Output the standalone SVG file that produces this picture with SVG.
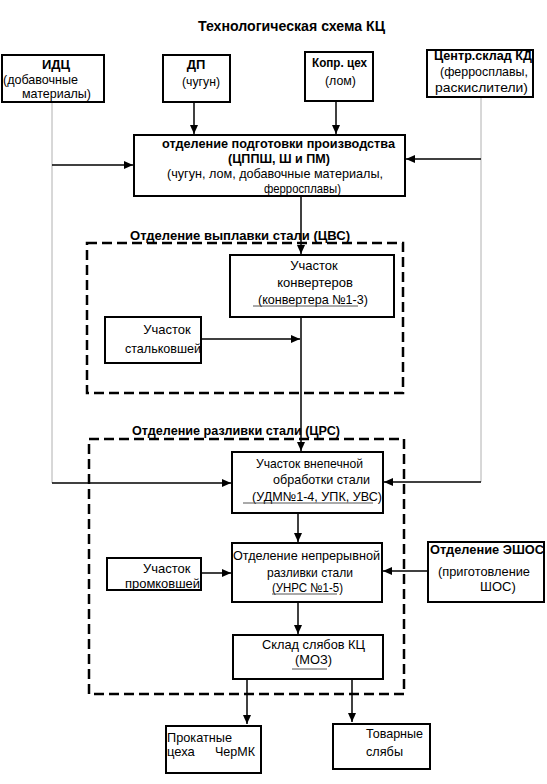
<svg xmlns="http://www.w3.org/2000/svg" width="547" height="784" viewBox="0 0 547 784">
<style>
text{font-family:"Liberation Sans",Arial,sans-serif;font-size:13px;fill:#000}
.b{font-weight:bold}
.t{font-size:14px;font-weight:bold}
.box{fill:#fff;stroke:#000;stroke-width:2}
.dash{fill:none;stroke:#000;stroke-width:2.5;stroke-dasharray:10 5}
.ln{fill:none;stroke:#000;stroke-width:1.5}
.gr{fill:none;stroke:#b0b0b0;stroke-width:1}
.ul{stroke:#555;stroke-width:1}
</style>
<defs>
<marker id="ah" markerUnits="userSpaceOnUse" markerWidth="10" markerHeight="8" refX="9" refY="4" orient="auto">
<path d="M0,0 L9,4 L0,8 z" fill="#000"/>
</marker>
</defs>
<rect width="547" height="784" fill="#fff"/>
<text class="t" x="198" y="31" textLength="187" lengthAdjust="spacingAndGlyphs">Технологическая схема КЦ</text>

<g id="zones">
<rect class="dash" x="87" y="243" width="316" height="150"/>
<text class="b" x="130" y="240" textLength="220" lengthAdjust="spacingAndGlyphs">Отделение  выплавки стали (ЦВС)</text>
<rect class="dash" x="89" y="439" width="315" height="255"/>
<text class="b" x="132" y="435" textLength="208" lengthAdjust="spacingAndGlyphs">Отделение разливки стали (ЦРС)</text>
</g>

<g id="connectors">
<path class="gr" d="M52,102 V483"/>
<path class="gr" d="M481,97 V482"/>
<path class="ln" d="M52,165 H133" marker-end="url(#ah)"/>
<path class="ln" d="M481,159 H406" marker-end="url(#ah)"/>
<path class="ln" d="M194,102 V134" marker-end="url(#ah)"/>
<path class="ln" d="M336,101 V134" marker-end="url(#ah)"/>
<path class="ln" d="M301,196 V254" marker-end="url(#ah)"/>
<path class="ln" d="M301,317 V451" marker-end="url(#ah)"/>
<path class="ln" d="M201,339 H300" marker-end="url(#ah)"/>
<path class="ln" d="M52,483 H231" marker-end="url(#ah)"/>
<path class="ln" d="M481,482 H384" marker-end="url(#ah)"/>
<path class="ln" d="M298,513 V542" marker-end="url(#ah)"/>
<path class="ln" d="M201,573 H231" marker-end="url(#ah)"/>
<path class="ln" d="M428,571 H383" marker-end="url(#ah)"/>
<path class="ln" d="M298,602 V634" marker-end="url(#ah)"/>
<path class="ln" d="M247,679 V724" marker-end="url(#ah)"/>
<path class="ln" d="M352,679 V722" marker-end="url(#ah)"/>
</g>

<g id="idc">
<rect class="box" x="2" y="55" width="102" height="47"/>
<text class="b" x="56" y="69" text-anchor="middle">ИДЦ</text>
<text x="3" y="84" textLength="75" lengthAdjust="spacingAndGlyphs">(добавочные</text>
<text x="22" y="98" textLength="69" lengthAdjust="spacingAndGlyphs">материалы)</text>
</g>

<g id="dp">
<rect class="box" x="163" y="55" width="67" height="47"/>
<text class="b" x="196" y="69" text-anchor="middle">ДП</text>
<text x="182" y="86" textLength="38" lengthAdjust="spacingAndGlyphs">(чугун)</text>
</g>

<g id="kopr">
<rect class="box" x="305" y="52" width="68" height="49"/>
<text class="b" x="312" y="67" textLength="55" lengthAdjust="spacingAndGlyphs">Копр. цех</text>
<text x="325" y="85" textLength="31" lengthAdjust="spacingAndGlyphs">(лом)</text>
</g>

<g id="centr">
<rect class="box" x="427" y="50" width="106" height="47"/>
<text class="b" x="434" y="60" textLength="98" lengthAdjust="spacingAndGlyphs">Центр.склад КД</text>
<text x="440" y="76" textLength="88" lengthAdjust="spacingAndGlyphs">(ферросплавы,</text>
<text x="435" y="92" textLength="93" lengthAdjust="spacingAndGlyphs">раскислители)</text>
</g>

<g id="podg">
<rect class="box" x="134" y="135" width="271" height="61"/>
<text class="b" x="162" y="148" textLength="233" lengthAdjust="spacingAndGlyphs">отделение подготовки производства</text>
<text class="b" x="228" y="163" textLength="102" lengthAdjust="spacingAndGlyphs">(ЦППШ, Ш и ПМ)</text>
<text x="167" y="178" textLength="216" lengthAdjust="spacingAndGlyphs">(чугун, лом, добавочные материалы,</text>
<text x="264" y="193" textLength="77" lengthAdjust="spacingAndGlyphs">ферросплавы)</text>
</g>

<g id="konv">
<rect class="box" x="230" y="255" width="164" height="62"/>
<text x="314" y="270" text-anchor="middle">Участок</text>
<text x="315" y="287" text-anchor="middle">конвертеров</text>
<text x="258" y="304" textLength="110" lengthAdjust="spacingAndGlyphs">(конвертера №1-3)</text>
<line class="ul" x1="253" y1="306" x2="358" y2="306"/>
</g>

<g id="stalkovsh">
<rect class="box" x="105" y="317" width="96" height="46"/>
<text x="167" y="334" text-anchor="middle">Участок</text>
<text x="125" y="353" textLength="76" lengthAdjust="spacingAndGlyphs">стальковшей</text>
</g>

<g id="vnepech">
<rect class="box" x="232" y="452" width="151" height="61"/>
<text x="256" y="468" textLength="107" lengthAdjust="spacingAndGlyphs">Участок внепечной</text>
<text x="273" y="484" textLength="97" lengthAdjust="spacingAndGlyphs">обработки стали</text>
<text x="252" y="501" textLength="130" lengthAdjust="spacingAndGlyphs">(УДМ№1-4, УПК, УВС)</text>
<line class="ul" x1="243" y1="503" x2="373" y2="503"/>
</g>

<g id="nepr">
<rect class="box" x="232" y="543" width="150" height="59"/>
<text x="233" y="560" textLength="147" lengthAdjust="spacingAndGlyphs">Отделение непрерывной</text>
<text x="267" y="577" textLength="86" lengthAdjust="spacingAndGlyphs">разливки стали</text>
<text x="272" y="592" textLength="71" lengthAdjust="spacingAndGlyphs">(УНРС №1-5)</text>
<line class="ul" x1="272" y1="594" x2="337" y2="594"/>
</g>

<g id="promkovsh">
<rect class="box" x="107" y="558" width="94" height="32"/>
<text x="143" y="573">Участок</text>
<text x="125" y="588" textLength="75" lengthAdjust="spacingAndGlyphs">промковшей</text>
</g>

<g id="eshos">
<rect class="box" x="428" y="542" width="116" height="60"/>
<text class="b" x="430" y="554" textLength="114" lengthAdjust="spacingAndGlyphs">Отделение ЭШОС</text>
<text x="438" y="576" textLength="92" lengthAdjust="spacingAndGlyphs">(приготовление</text>
<text x="480" y="591">ШОС)</text>
</g>

<g id="sklad">
<rect class="box" x="233" y="635" width="150" height="44"/>
<text x="262" y="649" textLength="103" lengthAdjust="spacingAndGlyphs">Склад слябов КЦ</text>
<text x="295" y="664" textLength="37" lengthAdjust="spacingAndGlyphs">(МОЗ)</text>
<line class="ul" x1="292" y1="669" x2="327" y2="669"/>
</g>

<g id="prokat">
<rect class="box" x="166" y="726" width="95" height="47"/>
<text x="167" y="742" textLength="65" lengthAdjust="spacingAndGlyphs">Прокатные</text>
<text x="167" y="756">цеха</text>
<text x="215" y="756" textLength="40" lengthAdjust="spacingAndGlyphs">ЧерМК</text>
</g>

<g id="tovar">
<rect class="box" x="333" y="724" width="97" height="45"/>
<text x="366" y="738" textLength="57" lengthAdjust="spacingAndGlyphs">Товарные</text>
<text x="366" y="756" textLength="37" lengthAdjust="spacingAndGlyphs">слябы</text>
</g>
</svg>
